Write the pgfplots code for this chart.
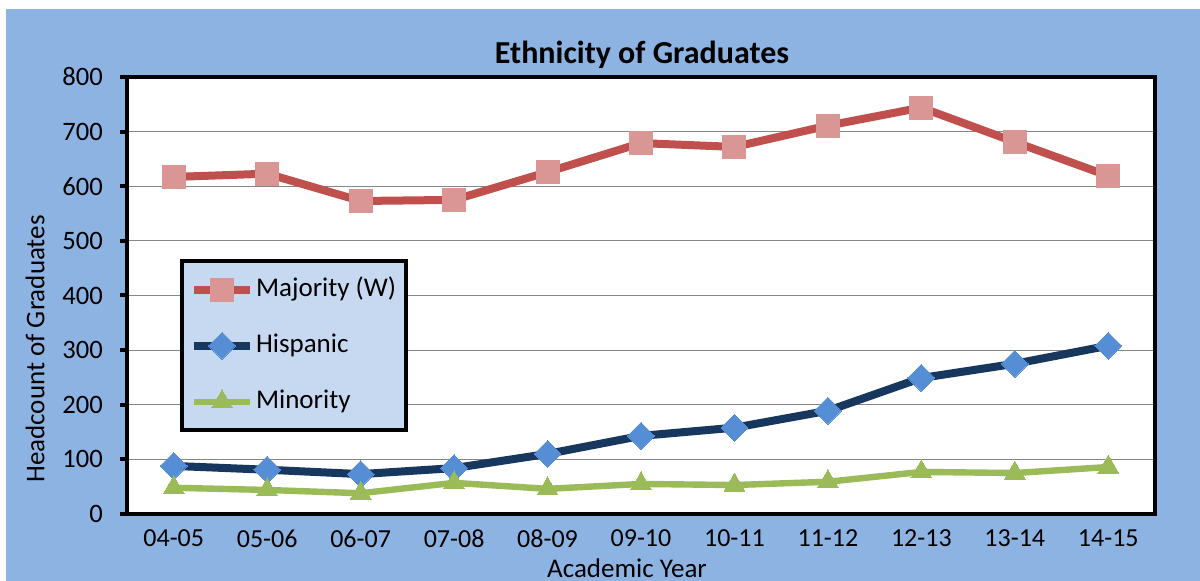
\documentclass[border=0pt]{standalone}
\usepackage{fontspec}
\setmainfont{Carlito}
\usepackage{pgfplots}
\pgfplotsset{compat=1.18}
\definecolor{bgblue}{HTML}{8DB3E2}
\definecolor{legfill}{HTML}{C6D9F1}
\definecolor{majline}{HTML}{C0504D}
\definecolor{majmark}{HTML}{D99694}
\definecolor{hisline}{HTML}{17375E}
\definecolor{hismark}{HTML}{558ED5}
\definecolor{minline}{HTML}{9BBB59}
\definecolor{gridgray}{HTML}{868686}
\begin{document}
\begin{tikzpicture}
\path[use as bounding box] (0,0) rectangle (600pt,290.5pt);
\fill[white] (0,0) rectangle (600pt,290.5pt);
\fill[bgblue] (3pt,0) rectangle (600pt,286pt);
\begin{axis}[
  at={(63.5pt,33.5pt)}, anchor=south west,
  width=514pt, height=218.5pt, scale only axis,
  axis background/.style={fill=white},
  xmin=-0.5, xmax=10.5, ymin=0, ymax=800,
  xtick={0,...,10},
  xticklabels={04-05,05-06,06-07,07-08,08-09,09-10,10-11,11-12,12-13,13-14,14-15},
  extra x ticks={-0.5,0.5,1.5,2.5,3.5,4.5,5.5,6.5,7.5,8.5,9.5,10.5},
  extra x tick labels={},
  extra x tick style={major tick length=3.5pt, tick style={line width=2pt,black}},
  major x tick style={draw=none},
  xtick pos=bottom, ytick pos=left,
  ytick={0,100,...,800},
  ymajorgrids, grid style={gridgray, line width=0.6pt},
  tick align=outside, major tick length=3.5pt,
  tick style={line width=2pt, black},
  axis line style={line width=2.2pt, black},
  /pgf/number format/assume math mode=true,
  ticklabel style={font=\fontsize{13}{15}\selectfont},
  yticklabel style={xshift=-5pt, font=\fontsize{13.3}{15}\selectfont},
  xticklabel style={yshift=-1pt},
  legend style={at={(0.0516,0.583)}, anchor=north west, fill=legfill, draw=black, line width=2pt,
    font=\fontsize{13.5}{15}\selectfont, inner xsep=4pt, inner ysep=7pt, row sep=13.5pt,
    nodes={inner sep=1pt, text height=9.5pt, text depth=3pt}},
  legend cell align=left,
  legend image code/.code={\draw[mark repeat=2,mark phase=2] plot coordinates {(0pt,0pt) (14pt,0pt) (28pt,0pt)};},
  clip=false,
]
\addplot[majline, line width=4pt, mark=square*, mark size=5.75pt, mark options={majmark, draw=none, line width=0pt}]
  coordinates {(0,617) (1,623) (2,573) (3,575) (4,626) (5,679) (6,672) (7,711) (8,744) (9,681) (10,619)};
\addlegendentry{Majority (W)}
\addplot[hisline, line width=4pt, mark=square*, mark size=4.75pt, mark options={hismark, draw=none, rotate=45, line width=0pt}]
  coordinates {(0,88) (1,81) (2,73) (3,84) (4,110) (5,143) (6,158) (7,189) (8,249) (9,275) (10,308)};
\addlegendentry{Hispanic}
\addplot[minline, line width=3.2pt, mark=triangle*, mark size=6pt, mark options={minline, draw=none, line width=0pt}]
  coordinates {(0,48) (1,44) (2,38) (3,57) (4,46) (5,55) (6,53) (7,59) (8,77) (9,75) (10,86)};
\addlegendentry{Minority}
\end{axis}
\node[font=\fontsize{16}{18}\selectfont\bfseries] at (321pt,263pt) {Ethnicity of Graduates};
\node[font=\fontsize{13.5}{15}\selectfont] at (313.5pt,6.5pt) {Academic Year};
\node[font=\fontsize{13.5}{15}\selectfont, rotate=90] at (17.5pt,116pt) {Headcount of Graduates};
\end{tikzpicture}
\end{document}
